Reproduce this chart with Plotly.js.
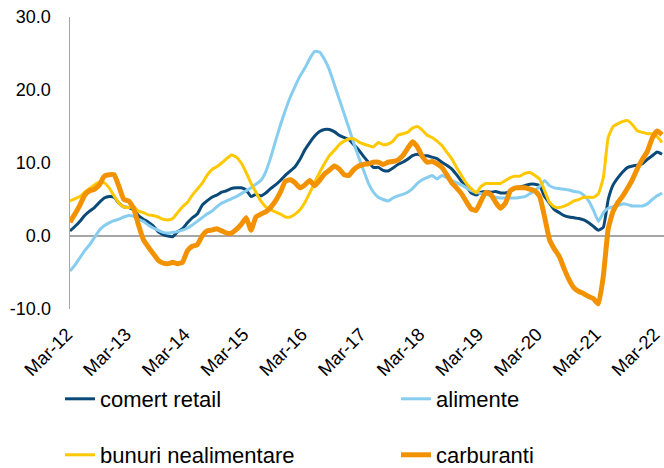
<!DOCTYPE html>
<html><head><meta charset="utf-8">
<script src="https://cdn.plot.ly/plotly-3.0.1.min.js"></script>
<style>html,body{margin:0;padding:0;background:#fff}#chart{width:664px;height:468px}</style>
</head><body><div id="chart"></div>
<script>
// Monthly series, Mar-12 .. Apr-22
const startYear = 2012, startMonth = 3;
const monthNames = ['Jan','Feb','Mar','Apr','May','Jun','Jul','Aug','Sep','Oct','Nov','Dec'];
const tickLabels = ['Mar-12','Mar-13','Mar-14','Mar-15','Mar-16','Mar-17','Mar-18','Mar-19','Mar-20','Mar-21','Mar-22'];
const yTickValues = [-10, 0, 10, 20, 30];
const yTickLabels = ['-10.0','0.0','10.0','20.0','30.0'];
const seriesNames = ['comert retail','alimente','bunuri nealimentare','carburanti'];

const comertRetail = [
0.7,1.3,2.0,2.8,3.4,3.9,4.6,5.2,5.4,5.3,4.5,4.0,
3.9,3.6,2.8,2.3,1.9,1.4,0.6,0.2,0.0,-0.1,0.6,1.0,
1.8,2.5,3.0,4.2,4.8,5.3,5.6,6.0,6.2,6.5,6.6,6.6,
6.3,5.4,5.7,5.5,5.9,6.5,7.0,7.6,8.3,8.9,9.5,10.5,
11.8,12.8,13.7,14.3,14.6,14.6,14.3,13.8,13.5,13.2,12.5,11.8,
10.9,10.1,9.4,9.4,9.0,8.9,9.3,9.8,10.1,10.5,11.0,11.2,
11.0,11.0,10.8,10.6,10.1,9.7,9.2,8.4,7.5,6.8,5.9,5.6,
6.0,6.1,6.0,6.1,5.9,5.9,6.1,6.6,6.7,6.9,7.1,7.1,
6.9,5.4,4.5,3.6,3.2,2.8,2.6,2.5,2.4,2.2,1.8,1.3,
0.8,1.2,5.0,7.0,8.0,8.8,9.4,9.6,9.7,9.9,10.5,11.0,
11.5,11.2];

const alimente = [
-4.8,-4.0,-3.0,-2.0,-1.2,-0.2,0.8,1.4,1.8,2.1,2.3,2.6,
2.8,2.7,2.3,2.0,1.5,1.1,0.8,0.5,0.4,0.5,0.6,0.8,
1.1,1.5,2.0,2.5,3.0,3.4,4.0,4.5,4.8,5.1,5.4,5.8,
6.2,6.6,7.1,7.6,8.8,10.7,13.0,15.2,17.2,19.0,20.5,21.9,
23.0,24.3,25.3,25.2,24.2,22.8,20.8,18.8,16.8,14.8,12.7,10.8,
9.0,7.2,6.0,5.3,5.0,4.8,5.2,5.5,5.7,6.0,6.5,7.2,
7.7,8.0,8.3,7.8,8.3,8.0,7.6,7.3,7.0,6.6,6.2,6.0,
5.8,5.7,5.5,5.3,5.2,5.2,5.2,5.2,5.3,5.4,5.8,6.2,
6.8,7.6,6.9,6.6,6.5,6.4,6.3,6.1,6.0,5.6,4.8,3.5,
2.0,3.2,3.8,4.0,4.2,4.4,4.3,4.1,4.1,4.1,4.4,5.0,
5.5,5.9];

const bunuriNealimentare = [
4.8,5.1,5.4,6.0,6.5,7.0,7.4,7.3,6.6,5.5,4.5,4.0,
3.9,4.0,3.4,3.2,2.9,2.8,2.6,2.3,2.2,2.4,3.2,4.0,
4.6,5.6,6.4,7.2,8.3,9.1,9.5,10.0,10.6,11.1,10.8,10.0,
8.7,7.2,6.0,4.8,4.0,3.6,3.3,3.0,2.6,2.6,3.0,3.6,
4.6,5.9,7.3,8.7,9.9,11.0,11.7,12.5,13.0,13.3,13.3,12.9,
12.6,12.4,12.2,12.8,12.5,12.6,13.0,13.8,14.0,14.2,14.8,15.0,
14.5,13.8,13.5,13.0,12.4,11.5,10.6,9.4,8.3,7.2,6.5,5.9,
6.8,7.2,7.2,7.2,7.2,7.6,8.0,8.2,8.2,8.6,8.7,8.3,
7.8,6.2,4.6,4.0,3.9,4.1,4.4,4.8,5.0,5.3,5.3,5.3,
5.8,8.0,13.5,15.0,15.4,15.7,15.8,15.2,14.4,14.2,14.0,14.0,
13.6,12.8];

const carburanti = [
1.9,3.0,4.2,5.6,6.2,6.4,7.0,8.2,8.4,8.4,6.8,5.0,
4.8,3.8,1.5,-0.5,-1.5,-2.4,-3.3,-3.7,-3.8,-3.6,-3.8,-3.6,
-2.0,-1.4,-1.2,0.0,0.7,0.8,1.0,0.7,0.4,0.4,0.9,1.6,
2.5,0.8,2.6,3.0,3.3,3.9,4.8,6.0,7.5,7.7,7.3,6.6,
7.0,7.6,6.9,7.6,8.5,9.0,9.6,9.2,8.4,8.3,9.1,9.6,
9.8,9.9,10.1,10.1,9.8,10.1,10.2,10.4,11.0,12.0,12.9,12.2,
10.9,10.1,10.2,9.9,9.4,8.4,7.3,6.6,5.8,4.7,3.7,3.5,
4.8,6.0,5.7,4.6,3.8,4.5,6.2,6.6,6.6,6.6,6.4,6.2,
5.4,2.6,-0.5,-1.8,-2.8,-4.5,-6.0,-7.1,-7.6,-7.9,-8.3,-8.6,
-9.3,-5.5,1.0,3.4,4.6,5.5,6.6,7.8,9.3,10.5,11.6,13.4,
14.4,13.9];

const colors = ['#0b4a78','#87cdf0','#ffc800','#f39200'];
const widths = [3,3,3,5];

// month category labels
const months = comertRetail.map((_, i) => {
  const m = (startMonth - 1 + i) % 12;
  const y = startYear + Math.floor((startMonth - 1 + i) / 12);
  return monthNames[m] + '-' + String(y).slice(2);
});

const values = [comertRetail, alimente, bunuriNealimentare, carburanti];
const legendIds = ['legend','legend','legend2','legend2'];
const legendWidths = [291, 110, 291, 110];
const traces = values.map((v, k) => ({
  type:'scatter', mode:'lines', name: seriesNames[k], x: months, y: v,
  line:{color: colors[k], width: widths[k], shape:'spline', smoothing:0.4},
  legend: legendIds[k], legendwidth: legendWidths[k], hoverinfo:'skip'
}));

const fontFam = 'Liberation Sans, Arial, sans-serif';
const legendCommon = {orientation:'h', xanchor:'left', yanchor:'middle', x:-0.0168,
  entrywidthmode:'pixels', font:{family:fontFam, size:22, color:'#000'},
  bgcolor:'rgba(0,0,0,0)', traceorder:'normal'};

const layout = {
  width:664, height:468,
  margin:{l:70, r:0, t:17, b:159, autoexpand:false},
  paper_bgcolor:'#fff', plot_bgcolor:'#fff',
  font:{family:fontFam, size:18, color:'#000'},
  xaxis:{type:'category', range:[0,121.4], tickvals: tickLabels, ticktext: tickLabels,
    tickangle:-45, showgrid:false, zeroline:false, showline:false, ticks:'',
    ticklabelstandoff:10, ticklabelshift:-3, automargin:false,
    tickfont:{family:fontFam, size:18.5, color:'#000'}},
  yaxis:{range:[-10,30], tickvals: yTickValues, ticktext: yTickLabels, showgrid:false,
    zeroline:true, zerolinecolor:'#a6a6a6', zerolinewidth:1.5,
    showline:true, linecolor:'#a6a6a6', linewidth:1.5, ticks:'', ticklabelstandoff:14, automargin:false,
    tickfont:{family:fontFam, size:18, color:'#000'}},
  showlegend:true,
  legend: Object.assign({}, legendCommon, {y:(309-399)/292}),
  legend2: Object.assign({}, legendCommon, {y:(309-455)/292})
};

Plotly.newPlot('chart', traces, layout, {displayModeBar:false, staticPlot:true});
</script></body></html>
